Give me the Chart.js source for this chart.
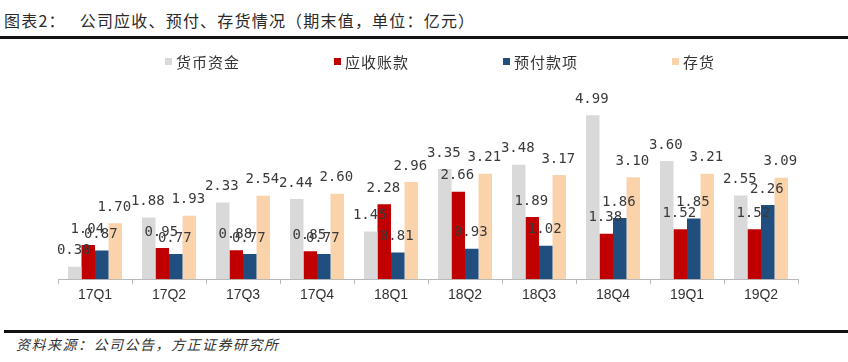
<!DOCTYPE html>
<html>
<head>
<meta charset="utf-8">
<script src="https://cdn.jsdelivr.net/npm/chart.js@4/dist/chart.umd.min.js"></script>
<style>
  html, body { margin: 0; padding: 0; background: #fff; }
  #wrap { position: relative; width: 848px; height: 362px; overflow: hidden; background: #fff; }
  #title { position: absolute; left: 4px; top: 8px; font: 400 16px "Noto Sans CJK SC", sans-serif; letter-spacing: 1.2px; color: #2a2a2a; white-space: nowrap; }
  #title span.gap { display: inline-block; width: 14px; }
  #rule1 { position: absolute; left: 0; top: 36px; width: 848px; height: 3px; background: #111; }
  #chartBox { position: absolute; left: 0; top: 40px; width: 848px; height: 278px; }
  #rule2 { position: absolute; left: 4px; top: 330px; width: 844px; height: 3px; background: #111; }
  #source { position: absolute; left: 16px; top: 334px; font: italic 14px "Noto Sans CJK SC", sans-serif; letter-spacing: 1.5px; color: #333; white-space: nowrap; }
</style>
</head>
<body>
<div id="wrap">
  <div id="title">图表2：<span class="gap"></span>公司应收、预付、存货情况（期末值，单位：亿元）</div>
  <div id="rule1"></div>
  <div id="chartBox"><canvas id="c" width="848" height="278"></canvas></div>
  <div id="rule2"></div>
  <div id="source">资料来源：公司公告，方正证券研究所</div>
</div>
<script>
const categories = ['17Q1','17Q2','17Q3','17Q4','18Q1','18Q2','18Q3','18Q4','19Q1','19Q2'];
const seriesNames = ['货币资金','应收账款','预付款项','存货'];
const cash        = [0.38, 1.88, 2.33, 2.44, 1.45, 3.35, 3.48, 4.99, 3.60, 2.55];
const receivables = [1.04, 0.95, 0.88, 0.85, 2.28, 2.66, 1.89, 1.38, 1.52, 1.52];
const prepayments = [0.87, 0.77, 0.77, 0.77, 0.81, 0.93, 1.02, 1.86, 1.85, 2.26];
const inventory   = [1.70, 1.93, 2.54, 2.60, 2.96, 3.21, 3.17, 3.10, 3.21, 3.09];

const colors = ['#d9d9d9', '#c00000', '#1f4e7f', '#fbd3ab'];
const seriesValues = [cash, receivables, prepayments, inventory];

const labelPlugin = {
  id: 'barLabels',
  afterDatasetsDraw(chart) {
    const ctx = chart.ctx;
    ctx.save();
    ctx.font = '14px "DejaVu Sans Mono", monospace';
    ctx.fillStyle = '#3a3a3a';
    ctx.textAlign = 'center';
    ctx.textBaseline = 'middle';
    chart.data.datasets.forEach((ds, di) => {
      const meta = chart.getDatasetMeta(di);
      meta.data.forEach((bar, i) => {
        const v = ds.data[i];
        ctx.fillText(v.toFixed(2), bar.x - 1, bar.y - 16);
      });
    });
    ctx.restore();
  }
};

const legendPlugin = {
  id: 'customLegend',
  afterDraw(chart) {
    const ctx = chart.ctx;
    ctx.save();
    ctx.font = '15px "Noto Sans CJK SC", sans-serif';
    ctx.textBaseline = 'middle';
    ctx.textAlign = 'left';
    const y = 22;
    chart.data.datasets.forEach((ds, i) => {
      const x = 165 + i * 169;
      ctx.fillStyle = ds.backgroundColor;
      ctx.fillRect(x, y - 4, 7, 7);
      ctx.fillStyle = '#333';
      let tx = x + 11;
      for (const ch of ds.label) { ctx.fillText(ch, tx, y); tx += 16; }
    });
    ctx.restore();
  }
};

new Chart(document.getElementById('c'), {
  type: 'bar',
  data: {
    labels: categories,
    datasets: seriesNames.map((name, i) => ({
      label: name,
      data: seriesValues[i],
      backgroundColor: colors[i],
      borderWidth: 0,
      categoryPercentage: 0.73,
      barPercentage: 1.0
    }))
  },
  options: {
    responsive: false,
    animation: false,
    layout: { padding: { left: 58, right: 50, top: 42, bottom: 11 } },
    plugins: { legend: { display: false }, tooltip: { enabled: false } },
    scales: {
      x: {
        grid: { drawOnChartArea: false, drawTicks: true, tickLength: 5, color: '#b8b8b8', offset: true },
        border: { display: true, color: '#b8b8b8', width: 1 },
        ticks: { color: '#333', font: { family: 'Liberation Sans Narrow, Liberation Sans, sans-serif', size: 14 }, padding: 3, maxRotation: 0 }
      },
      y: { display: false, min: 0, max: 6 }
    }
  },
  plugins: [labelPlugin, legendPlugin]
});
</script>
</body>
</html>
